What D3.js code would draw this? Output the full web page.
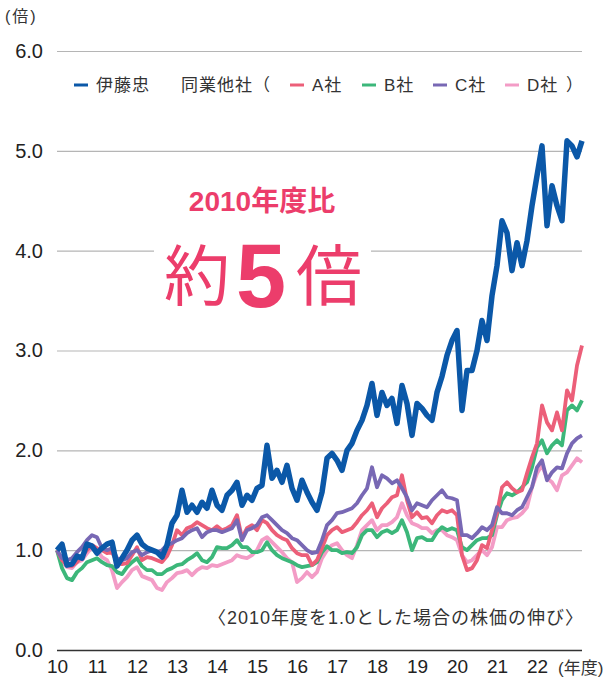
<!DOCTYPE html>
<html>
<head>
<meta charset="utf-8">
<script src="https://cdn.jsdelivr.net/npm/d3@7"></script>
<style>
  body { margin: 0; background: #fff; }
  svg { display: block; }
</style>
</head>
<body>
<svg id="chart" width="614" height="682"></svg>
<script>
const start = 10, step = 0.125;
const itochu = [1.00,1.06,0.85,0.86,0.94,0.92,1.06,1.04,0.97,1.02, 1.06,1.08,0.84,0.92,1.00,1.10,1.15,1.06,1.02,1.00,
  0.98,0.93,1.05,1.27,1.35,1.60,1.38,1.45,1.38,1.48, 1.42,1.60,1.45,1.40,1.55,1.60,1.68,1.45,1.55,1.50,
  1.62,1.65,2.05,1.72,1.80,1.68,1.85,1.62,1.50,1.70, 1.58,1.48,1.40,1.58,1.92,1.97,1.90,1.80,2.00,2.07,
  2.20,2.30,2.45,2.67,2.35,2.58,2.45,2.52,2.27,2.65, 2.47,2.15,2.47,2.42,2.35,2.30,2.58,2.74,2.95,3.10,
  3.20,2.40,2.80,2.80,3.00,3.30,3.10,3.55,3.85,4.30, 4.18,3.80,4.08,3.85,4.10,4.45,4.75,5.05,4.25,4.65,
  4.45,4.30,5.10,5.05,4.94,5.10];
const compA = [1.00,0.90,0.85,0.84,0.88,0.94,1.00,1.05,1.02,1.00, 0.97,0.98,0.88,0.86,0.87,0.95,1.03,0.90,0.93,0.92,
  0.90,0.88,0.94,1.05,1.20,1.15,1.22,1.24,1.28,1.25, 1.22,1.20,1.24,1.20,1.22,1.25,1.35,1.12,1.22,1.25,
  1.20,1.30,1.27,1.20,1.15,1.12,1.10,1.02,0.97,0.95, 0.95,0.85,0.90,1.02,1.15,1.20,1.23,1.18,1.20,1.22,
  1.28,1.35,1.40,1.47,1.33,1.42,1.47,1.53,1.55,1.75, 1.50,1.33,1.38,1.32,1.33,1.27,1.35,1.40,1.38,1.40,
  1.35,0.95,0.80,0.82,0.90,1.05,1.02,1.20,1.37,1.63, 1.68,1.62,1.58,1.60,1.77,1.93,2.07,2.45,2.28,2.20,
  2.38,2.20,2.60,2.50,2.85,3.05];
const compB = [1.00,0.82,0.72,0.70,0.78,0.82,0.88,0.90,0.92,0.88, 0.85,0.84,0.78,0.76,0.83,0.88,0.92,0.84,0.80,0.80,
  0.76,0.76,0.80,0.82,0.85,0.86,0.90,0.93,0.97,0.90, 0.88,0.93,1.03,1.02,1.02,1.05,1.10,1.03,1.03,0.98,
  0.98,1.00,1.08,1.00,0.95,0.92,0.90,0.88,0.85,0.83, 0.84,0.85,0.88,0.98,1.04,1.00,1.00,0.97,0.98,0.97,
  1.03,1.15,1.20,1.20,1.13,1.18,1.20,1.17,1.20,1.30, 1.18,1.00,1.12,1.13,1.10,1.10,1.18,1.23,1.20,1.22,
  1.20,1.03,1.00,1.05,1.10,1.12,1.12,1.15,1.35,1.50, 1.57,1.55,1.58,1.63,1.68,1.83,2.03,2.10,1.97,2.05,
  2.10,2.05,2.40,2.45,2.40,2.50];
const compC = [1.00,0.92,0.90,0.92,0.98,1.03,1.10,1.15,1.13,1.02, 1.00,1.02,0.92,0.90,0.92,0.98,1.00,0.95,0.98,1.00,
  0.98,1.00,1.05,1.07,1.10,1.12,1.17,1.20,1.22,1.13, 1.18,1.20,1.20,1.18,1.20,1.22,1.30,1.10,1.20,1.22,
  1.25,1.33,1.35,1.30,1.25,1.20,1.17,1.12,1.10,1.05, 1.00,0.97,0.98,1.10,1.25,1.30,1.37,1.38,1.40,1.42,
  1.47,1.55,1.62,1.83,1.63,1.75,1.72,1.67,1.70,1.62, 1.53,1.40,1.47,1.45,1.43,1.50,1.55,1.60,1.53,1.52,
  1.50,1.15,1.15,1.12,1.17,1.23,1.20,1.25,1.43,1.37, 1.37,1.35,1.40,1.43,1.53,1.63,1.83,1.90,1.70,1.78,
  1.83,1.82,1.97,2.07,2.12,2.15];
const compD = [1.00,0.88,0.83,0.82,0.88,0.90,0.97,1.03,1.00,0.93, 0.90,0.80,0.62,0.68,0.73,0.80,0.83,0.74,0.72,0.70,
  0.62,0.60,0.68,0.72,0.77,0.78,0.80,0.75,0.80,0.83, 0.82,0.85,0.84,0.86,0.88,0.90,0.95,0.93,0.92,0.95,
  1.00,1.10,1.13,1.08,1.03,0.98,0.92,0.88,0.68,0.72, 0.78,0.73,0.78,0.92,1.00,1.05,1.07,1.00,0.95,0.92,
  1.05,1.20,1.25,1.30,1.20,1.25,1.25,1.28,1.33,1.47, 1.35,1.27,1.25,1.22,1.22,1.17,1.20,1.20,1.15,1.13,
  1.10,0.95,0.88,0.90,0.95,1.00,0.95,1.03,1.23,1.23, 1.30,1.32,1.33,1.37,1.43,1.63,1.77,1.85,1.72,1.68,
  1.60,1.75,1.78,1.85,1.92,1.88];

const yTicks = [0, 1, 2, 3, 4, 5, 6];
const xTicks = [10, 11, 12, 13, 14, 15, 16, 17, 18, 19, 20, 21, 22];

const series = [
  { name: "D社", values: compD, color: "#f39cc6", width: 3.8 },
  { name: "B社", values: compB, color: "#3cb77a", width: 3.8 },
  { name: "A社", values: compA, color: "#ec5f79", width: 3.8 },
  { name: "C社", values: compC, color: "#7868b4", width: 3.8 },
  { name: "伊藤忠", values: itochu, color: "#0b58a8", width: 5.5 }
];

const FONT = '"Liberation Sans", "Noto Sans CJK JP", sans-serif';
const PINK = "#ec3d6b";

const svg = d3.select("#chart").attr("font-family", FONT);
const x = d3.scaleLinear().domain([10, 23.125]).range([57, 582]);
const y = d3.scaleLinear().domain([0, 6]).range([650, 51]);

// grid lines + y labels
const gy = svg.append("g").attr("transform", "translate(57,0)")
  .call(d3.axisLeft(y).tickValues(yTicks).tickSize(-(582 - 57)).tickPadding(14).tickFormat(d3.format(".1f")));
gy.attr("font-family", FONT).attr("font-size", 20);
gy.select(".domain").remove();
gy.selectAll(".tick line")
  .attr("stroke", d => d === 0 ? "#333" : "#b5b5b5")
  .attr("stroke-width", d => d === 0 ? 1.6 : 1.2);
gy.selectAll(".tick text").attr("fill", "#222");

svg.append("text").attr("x", 5).attr("y", 22).attr("font-size", 16).attr("letter-spacing", 2)
  .attr("fill", "#333").text("(倍)");

// x labels
const gx = svg.append("g").attr("transform", "translate(0,650)")
  .call(d3.axisBottom(x).tickValues(xTicks).tickSize(0).tickPadding(10).tickFormat(d => d));
gx.attr("font-family", FONT).attr("font-size", 19);
gx.select(".domain").remove();
gx.selectAll(".tick text").attr("fill", "#222");
svg.append("text").attr("x", 558).attr("y", 674).attr("font-size", 17).attr("fill", "#333").text("(年度)");

// white patch behind callout
svg.append("rect").attr("x", 154).attr("y", 170).attr("width", 217).attr("height", 150).attr("fill", "#fff");

// lines
const line = d3.line()
  .x((d, i) => x(start + i * step))
  .y(d => y(d));

svg.append("g").selectAll("path")
  .data(series)
  .enter().append("path")
    .attr("d", d => line(d.values))
    .attr("fill", "none")
    .attr("stroke", d => d.color)
    .attr("stroke-width", d => d.width)
    .attr("stroke-linejoin", "round");

// legend
const lg = svg.append("g").attr("font-size", 17).attr("letter-spacing", 1).attr("fill", "#333");
const legendItems = [
  { s: series[4], x: 74 },
  { s: series[2], x: 290 },
  { s: series[1], x: 362 },
  { s: series[3], x: 433 },
  { s: series[0], x: 505 }
];
legendItems.forEach(it => {
  lg.append("line").attr("x1", it.x).attr("x2", it.x + 14).attr("y1", 85).attr("y2", 85)
    .attr("stroke", it.s.color).attr("stroke-width", 3);
  lg.append("text").attr("x", it.x + 22).attr("y", 91).text(it.s.name);
});
lg.append("text").attr("x", 181).attr("y", 91).text("同業他社（");
lg.append("text").attr("x", 566).attr("y", 91).text("）");

// callout
svg.append("text").attr("x", 262).attr("y", 211).attr("text-anchor", "middle")
  .attr("font-size", 28).attr("font-weight", "bold").attr("fill", PINK).text("2010年度比");
svg.append("text").attr("x", 164).attr("y", 300).attr("font-size", 66).attr("fill", PINK).text("約");
svg.append("text").attr("x", 236).attr("y", 307).attr("font-size", 90).attr("font-weight", "bold").attr("fill", PINK).text("5");
svg.append("text").attr("x", 296).attr("y", 300).attr("font-size", 66).attr("fill", PINK).text("倍");

// note
svg.append("text").attr("x", 584).attr("y", 624).attr("text-anchor", "end")
  .attr("font-size", 18).attr("letter-spacing", 1).attr("fill", "#333").text("〈2010年度を1.0とした場合の株価の伸び〉");
</script>
</body>
</html>
